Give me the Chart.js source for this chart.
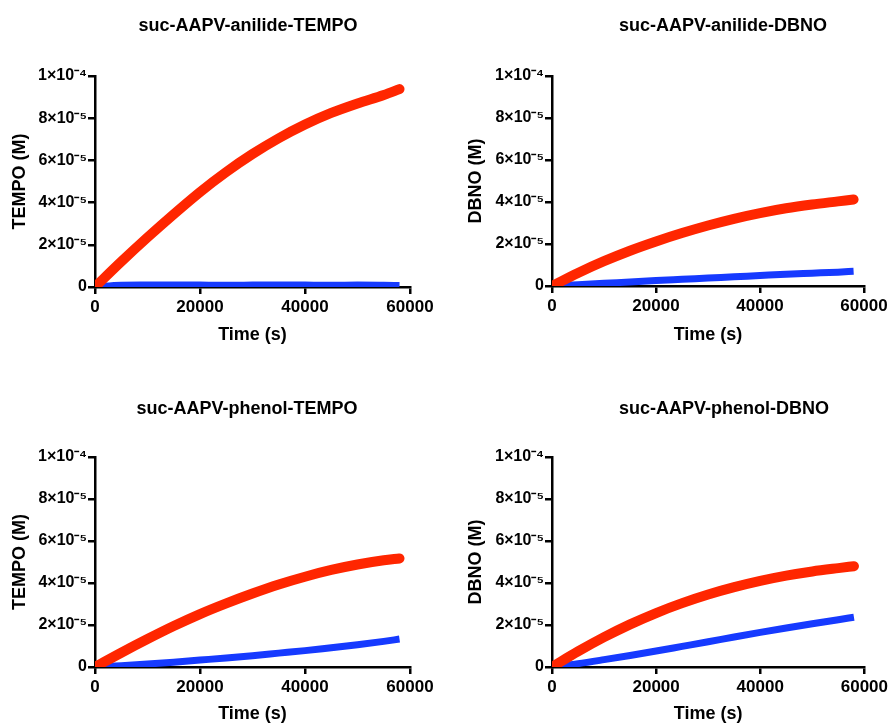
<!DOCTYPE html>
<html lang="en">
<head>
<meta charset="UTF-8">
<title>suc-AAPV release kinetics</title>
<script src="https://cdn.jsdelivr.net/npm/chart.js"></script>
<style>
  body { margin: 0; background: #fff; width: 891px; height: 725px; overflow: hidden; position: relative; }
  .panel { position: absolute; }
</style>
</head>
<body>
<div class="panel" style="left:0;top:0;width:445px;height:362px"><canvas id="c1"></canvas></div>
<div class="panel" style="left:445px;top:0;width:446px;height:362px"><canvas id="c2"></canvas></div>
<div class="panel" style="left:0;top:362px;width:445px;height:363px"><canvas id="c3"></canvas></div>
<div class="panel" style="left:445px;top:362px;width:446px;height:363px"><canvas id="c4"></canvas></div>

<script>
// time points (s)
const times = [0, 5000, 10000, 15000, 20000, 25000, 30000, 35000, 40000, 45000, 50000, 55000, 58000];

// released nitroxide (M), red = with elastase, blue = control
const anilideTempoRed  = [0, 1.2e-5, 2.35e-5, 3.45e-5, 4.5e-5, 5.45e-5, 6.3e-5, 7.05e-5, 7.7e-5, 8.25e-5, 8.7e-5, 9.1e-5, 9.38e-5];
const anilideTempoBlue = [0, 8e-7, 9e-7, 1e-6, 9e-7, 8e-7, 9e-7, 1e-6, 9e-7, 8e-7, 9e-7, 8e-7, 7e-7];
const anilideDbnoRed   = [0, 0.62e-5, 1.18e-5, 1.68e-5, 2.12e-5, 2.52e-5, 2.88e-5, 3.2e-5, 3.47e-5, 3.7e-5, 3.88e-5, 4.03e-5, 4.12e-5];
const anilideDbnoBlue  = [0, 0.06e-5, 0.13e-5, 0.19e-5, 0.26e-5, 0.32e-5, 0.38e-5, 0.44e-5, 0.5e-5, 0.56e-5, 0.61e-5, 0.66e-5, 0.7e-5];
const phenolTempoRed   = [0, 0.68e-5, 1.33e-5, 1.95e-5, 2.52e-5, 3.03e-5, 3.5e-5, 3.93e-5, 4.3e-5, 4.62e-5, 4.88e-5, 5.08e-5, 5.17e-5];
const phenolTempoBlue  = [0, 0.06e-5, 0.14e-5, 0.23e-5, 0.33e-5, 0.43e-5, 0.54e-5, 0.66e-5, 0.78e-5, 0.92e-5, 1.06e-5, 1.22e-5, 1.33e-5];
const phenolDbnoRed    = [0, 0.74e-5, 1.42e-5, 2.03e-5, 2.57e-5, 3.04e-5, 3.45e-5, 3.8e-5, 4.1e-5, 4.35e-5, 4.55e-5, 4.71e-5, 4.8e-5];
const phenolDbnoBlue   = [0, 0.16e-5, 0.35e-5, 0.55e-5, 0.76e-5, 0.98e-5, 1.2e-5, 1.43e-5, 1.65e-5, 1.86e-5, 2.06e-5, 2.25e-5, 2.37e-5];

const yTickLabels = ['0', '2×10⁻⁵', '4×10⁻⁵', '6×10⁻⁵', '8×10⁻⁵', '1×10⁻⁴'];
const xTickLabels = ['0', '20000', '40000', '60000'];

const RED = 'rgb(255,38,0)';
const BLUE = 'rgb(22,58,255)';
const FONT = 'Liberation Sans, Arial, sans-serif';

// draws the panel heading at a fixed spot
const panelTitle = {
    id: 'panelTitle',
    afterDraw(chart, args, opts) {
        const ctx = chart.ctx;
        ctx.save();
        ctx.font = 'bold 18px ' + FONT;
        ctx.fillStyle = '#000';
        ctx.textAlign = 'center';
        ctx.textBaseline = 'alphabetic';
        ctx.fillText(opts.text, opts.x, opts.y);
        ctx.restore();
    }
};

function makePanel(id, title, yTitle, red, blue, box) {
    const pts = arr => times.map((t, i) => ({ x: t, y: arr[i] }));
    new Chart(document.getElementById(id), {
        type: 'line',
        data: {
            datasets: [
                { data: pts(red), borderColor: RED, borderWidth: 10, borderCapStyle: 'round', pointRadius: 0, cubicInterpolationMode: 'monotone' },
                { data: pts(blue), borderColor: BLUE, borderWidth: 7, borderCapStyle: 'butt', pointRadius: 0, cubicInterpolationMode: 'monotone' }
            ]
        },
        options: {
            responsive: true,
            maintainAspectRatio: false,
            animation: false,
            layout: { padding: { left: box.padLeft, right: box.padRight, top: box.top, bottom: box.padBottom } },
            plugins: {
                legend: { display: false },
                tooltip: { enabled: false },
                panelTitle: { text: title, x: box.titleX, y: box.titleY }
            },
            scales: {
                x: {
                    type: 'linear', min: 0, max: 60000,
                    afterFit: s => { s.height = box.h - box.padBottom - box.bottom; },
                    ticks: { stepSize: 20000, color: '#000', padding: 3, maxRotation: 0,
                             font: { family: FONT, size: 17, weight: 'bold' },
                             callback: (v, i) => xTickLabels[i] },
                    grid: { drawOnChartArea: false, drawTicks: true, tickLength: 7, color: '#000', lineWidth: 2.5 },
                    border: { display: true, color: '#000', width: 2.5 },
                    title: { display: true, text: 'Time (s)', color: '#000', padding: 0,
                             font: { family: FONT, size: 18, weight: 'bold' } }
                },
                y: {
                    min: 0, max: 1e-4,
                    afterFit: s => { s.width = box.left - box.padLeft; },
                    ticks: { stepSize: 2e-5, color: '#000', padding: 1,
                             font: { family: FONT, size: 16, weight: 'bold' },
                             callback: (v, i) => yTickLabels[i] },
                    grid: { drawOnChartArea: false, drawTicks: true, tickLength: 7, color: '#000', lineWidth: 2.5 },
                    border: { display: true, color: '#000', width: 2.5 },
                    title: { display: true, text: yTitle, color: '#000', padding: 0,
                             font: { family: FONT, size: 18, weight: 'bold' } }
                }
            }
        },
        plugins: [panelTitle]
    });
}

makePanel('c1', 'suc-AAPV-anilide-TEMPO', 'TEMPO (M)', anilideTempoRed, anilideTempoBlue,
    { h: 362, left: 95, padLeft: 9, padRight: 35, top: 76, bottom: 287, padBottom: 16, titleX: 248, titleY: 31 });
makePanel('c2', 'suc-AAPV-anilide-DBNO', 'DBNO (M)', anilideDbnoRed, anilideDbnoBlue,
    { h: 362, left: 107, padLeft: 20, padRight: 27, top: 76, bottom: 286, padBottom: 16, titleX: 278, titleY: 31 });
makePanel('c3', 'suc-AAPV-phenol-TEMPO', 'TEMPO (M)', phenolTempoRed, phenolTempoBlue,
    { h: 363, left: 95, padLeft: 9, padRight: 35, top: 95, bottom: 305, padBottom: 0, titleX: 247, titleY: 52 });
makePanel('c4', 'suc-AAPV-phenol-DBNO', 'DBNO (M)', phenolDbnoRed, phenolDbnoBlue,
    { h: 363, left: 107, padLeft: 20, padRight: 25, top: 95, bottom: 305, padBottom: 0, titleX: 279, titleY: 52 });
</script>
</body>
</html>
